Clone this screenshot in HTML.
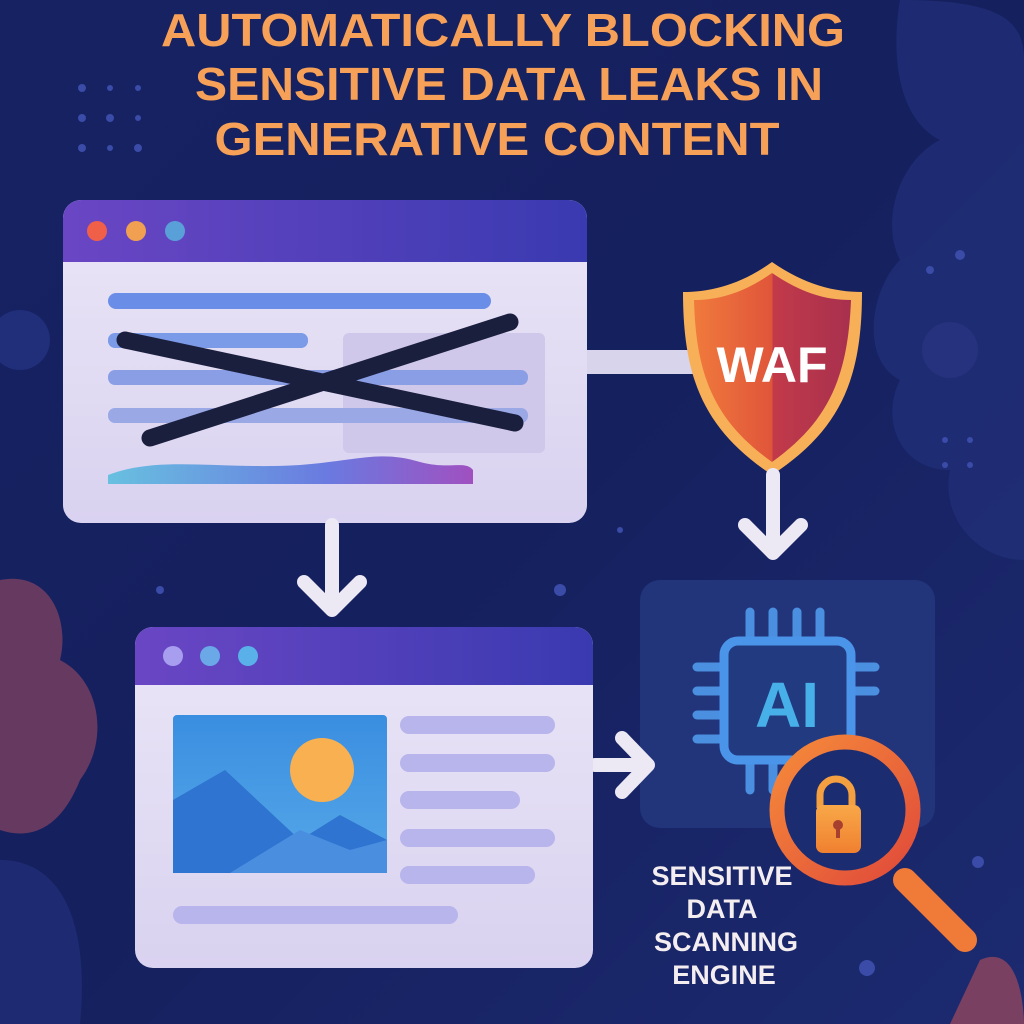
<!DOCTYPE html>
<html><head><meta charset="utf-8"><style>
html,body{margin:0;padding:0;background:#16215e;}
svg{display:block}
</style></head><body>
<svg width="1024" height="1024" viewBox="0 0 1024 1024" xmlns="http://www.w3.org/2000/svg">
<defs>
<linearGradient id="bg" x1="0" y1="0" x2="1" y2="1">
<stop offset="0" stop-color="#172263"/><stop offset="0.5" stop-color="#15205e"/><stop offset="1" stop-color="#1c2a70"/></linearGradient>
<linearGradient id="hdr" x1="0" y1="0" x2="1" y2="0">
<stop offset="0" stop-color="#6a46c4"/><stop offset="1" stop-color="#3a3ab0"/></linearGradient>
<linearGradient id="body" x1="0" y1="0" x2="0" y2="1">
<stop offset="0" stop-color="#ebe6f7"/><stop offset="1" stop-color="#d9d2f0"/></linearGradient>
<linearGradient id="sh" x1="0" y1="0" x2="1" y2="0">
<stop offset="0" stop-color="#f07a3c"/><stop offset="0.5" stop-color="#e0553a"/><stop offset="0.5" stop-color="#c23a4a"/><stop offset="1" stop-color="#a8304e"/></linearGradient>
<linearGradient id="img" x1="0" y1="0" x2="0" y2="1">
<stop offset="0" stop-color="#3a8ee0"/><stop offset="1" stop-color="#56a8e8"/></linearGradient>
<linearGradient id="wave" x1="0" y1="0" x2="1" y2="0">
<stop offset="0" stop-color="#68c0e0"/><stop offset="0.6" stop-color="#6a7ae0"/><stop offset="1" stop-color="#a050c0"/></linearGradient>
<linearGradient id="mag" x1="0" y1="0" x2="1" y2="1">
<stop offset="0" stop-color="#f58a3a"/><stop offset="1" stop-color="#e04a3a"/></linearGradient>
<linearGradient id="lock" x1="0" y1="0" x2="0" y2="1">
<stop offset="0" stop-color="#f8a848"/><stop offset="1" stop-color="#f08030"/></linearGradient>
</defs>
<rect width="1024" height="1024" fill="url(#bg)"/>
<!-- blobs -->
<path d="M900 0 C1000 0 1024 20 1024 60 L1024 560 C980 560 940 520 950 470 C900 470 880 420 900 380 C860 360 870 290 900 260 C880 220 900 160 940 140 C900 120 890 60 900 0Z" fill="#22307a" opacity="0.7"/>
<path d="M0 580 C50 570 70 620 60 660 C100 680 110 740 80 780 C60 830 30 840 0 830Z" fill="#7a4062" opacity="0.8"/>
<path d="M0 860 C60 860 90 920 80 1024 L0 1024Z" fill="#202e78" opacity="0.8"/>
<path d="M980 960 C1024 940 1024 1024 1024 1024 L950 1024Z" fill="#7a4062"/>
<circle cx="950" cy="350" r="28" fill="#26327e"/>
<circle cx="20" cy="340" r="30" fill="#212e7a"/>
<!-- dots -->
<g fill="#3a4ba8">
<circle cx="82" cy="88" r="4"/><circle cx="110" cy="88" r="3"/><circle cx="138" cy="88" r="3"/>
<circle cx="82" cy="118" r="4"/><circle cx="110" cy="118" r="4"/><circle cx="138" cy="118" r="3"/>
<circle cx="82" cy="148" r="4"/><circle cx="110" cy="148" r="3"/><circle cx="138" cy="148" r="4"/>
<circle cx="960" cy="255" r="5"/><circle cx="930" cy="270" r="4"/><circle cx="945" cy="440" r="3"/><circle cx="970" cy="440" r="3"/><circle cx="945" cy="465" r="3"/><circle cx="970" cy="465" r="3"/>
<circle cx="978" cy="862" r="6"/><circle cx="867" cy="968" r="8"/><circle cx="560" cy="590" r="6"/><circle cx="160" cy="590" r="4"/><circle cx="620" cy="530" r="3"/>
</g>
<!-- title -->
<g font-family="Liberation Sans, sans-serif" font-weight="bold" font-size="46" fill="#f7a158" text-anchor="middle">
<text x="503" y="46" textLength="684" lengthAdjust="spacingAndGlyphs">AUTOMATICALLY BLOCKING</text>
<text x="509" y="100" textLength="628" lengthAdjust="spacingAndGlyphs">SENSITIVE DATA LEAKS IN</text>
<text x="497" y="155" textLength="565" lengthAdjust="spacingAndGlyphs">GENERATIVE CONTENT</text>
</g>
<!-- connector to WAF -->
<rect x="585" y="350" width="110" height="24" fill="#d8d4ec"/>
<!-- window 1 -->
<rect x="63" y="200" width="524" height="323" rx="18" fill="url(#body)"/>
<path d="M81 200 H569 A18 18 0 0 1 587 218 V262 H63 V218 A18 18 0 0 1 81 200Z" fill="url(#hdr)"/>
<circle cx="97" cy="231" r="10" fill="#f06048"/><circle cx="136" cy="231" r="10" fill="#f0a050"/><circle cx="175" cy="231" r="10" fill="#5aa0d8"/>
<rect x="343" y="333" width="202" height="120" rx="6" fill="#cfc8ea"/>
<g fill="#7b9ae8">
<rect x="108" y="293" width="383" height="16" rx="8" fill="#6a8ee8"/>
<rect x="108" y="333" width="200" height="15" rx="7"/>
<rect x="108" y="370" width="420" height="15" rx="7" fill="#8a9ee6"/>
<rect x="108" y="408" width="420" height="15" rx="7" fill="#9aa8e6"/>
</g>
<path d="M108 475 C160 455 220 470 300 465 C360 460 380 450 420 462 C450 470 465 460 473 470 V484 H108Z" fill="url(#wave)"/>
<g stroke="#1b1f3e" stroke-width="17" stroke-linecap="round">
<line x1="125" y1="340" x2="515" y2="423"/><line x1="150" y1="438" x2="510" y2="322"/>
</g>
<!-- shield -->
<path d="M772 262 C740 285 710 292 683 292 C683 380 705 430 772 475 C840 430 862 380 862 292 C835 292 805 285 772 262Z" fill="#f8b058"/>
<path d="M772 273 C745 292 720 300 694 300 C696 378 716 422 772 462 C828 422 848 378 851 300 C824 300 800 292 772 273Z" fill="url(#sh)"/>
<text x="772" y="382" font-family="Liberation Sans, sans-serif" font-weight="bold" font-size="50" fill="#fff" text-anchor="middle">WAF</text>
<!-- AI box -->
<rect x="640" y="580" width="295" height="248" rx="20" fill="#22347a"/>
<!-- arrows -->
<g fill="none" stroke="#ece8f4" stroke-width="14" stroke-linecap="round" stroke-linejoin="round">
<line x1="773" y1="475" x2="773" y2="550"/><polyline points="745,525 773,553 801,525"/>
<line x1="332" y1="525" x2="332" y2="605"/><polyline points="304,582 332,610 360,582"/>
<line x1="595" y1="765" x2="645" y2="765"/><polyline points="622,738 648,765 622,792"/>
</g>
<g stroke="#4a8fe0" stroke-width="9" stroke-linecap="round">
<line x1="750" y1="612" x2="750" y2="640"/><line x1="773" y1="612" x2="773" y2="640"/><line x1="797" y1="612" x2="797" y2="640"/><line x1="820" y1="612" x2="820" y2="640"/>
<line x1="750" y1="760" x2="750" y2="790"/><line x1="773" y1="760" x2="773" y2="790"/>
<line x1="697" y1="667" x2="725" y2="667"/><line x1="697" y1="691" x2="725" y2="691"/><line x1="697" y1="715" x2="725" y2="715"/><line x1="697" y1="739" x2="725" y2="739"/>
<line x1="850" y1="667" x2="875" y2="667"/><line x1="850" y1="691" x2="875" y2="691"/>
</g>
<rect x="724" y="641" width="127" height="119" rx="14" fill="#223a80" stroke="#4a95ea" stroke-width="9"/>
<text x="787" y="727" font-family="Liberation Sans, sans-serif" font-weight="bold" font-size="64" fill="#48b0e8" text-anchor="middle">AI</text>
<!-- magnifier -->
<line x1="905" y1="880" x2="965" y2="940" stroke="#f07a38" stroke-width="24" stroke-linecap="round"/>
<circle cx="845" cy="810" r="68" fill="#1c2c70" stroke="url(#mag)" stroke-width="15"/>
<path d="M820 808 V795 A16 16 0 0 1 852 795 V808" fill="none" stroke="#f5a040" stroke-width="7"/>
<rect x="816" y="805" width="45" height="48" rx="7" fill="url(#lock)"/>
<circle cx="838" cy="825" r="5" fill="#a84030"/><rect x="836" y="825" width="4" height="13" fill="#a84030"/>
<g font-family="Liberation Sans, sans-serif" font-weight="bold" font-size="27" fill="#f4eef0" text-anchor="middle">
<text x="722" y="885">SENSITIVE</text><text x="722" y="918">DATA</text><text x="726" y="951">SCANNING</text><text x="724" y="984">ENGINE</text>
</g>
<!-- window 2 -->
<rect x="135" y="627" width="458" height="341" rx="18" fill="url(#body)"/>
<path d="M153 627 H575 A18 18 0 0 1 593 645 V685 H135 V645 A18 18 0 0 1 153 627Z" fill="url(#hdr)"/>
<circle cx="173" cy="656" r="10" fill="#a89ef0"/><circle cx="210" cy="656" r="10" fill="#6aa8e8"/><circle cx="248" cy="656" r="10" fill="#5ab0e8"/>
<rect x="173" y="715" width="214" height="158" rx="4" fill="url(#img)"/>
<circle cx="322" cy="770" r="32" fill="#f8b050"/>
<path d="M173 800 L225 770 L300 840 L340 815 L387 840 V873 H173Z" fill="#2e74d0"/>
<path d="M230 873 L300 830 L350 850 L387 840 V873Z" fill="#4a8ee0"/>
<g fill="#b8b4ec">
<rect x="400" y="716" width="155" height="18" rx="9"/>
<rect x="400" y="754" width="155" height="18" rx="9"/>
<rect x="400" y="791" width="120" height="18" rx="9"/>
<rect x="400" y="829" width="155" height="18" rx="9"/>
<rect x="400" y="866" width="135" height="18" rx="9"/>
<rect x="173" y="906" width="285" height="18" rx="9"/>
</g>
</svg>
</body></html>
